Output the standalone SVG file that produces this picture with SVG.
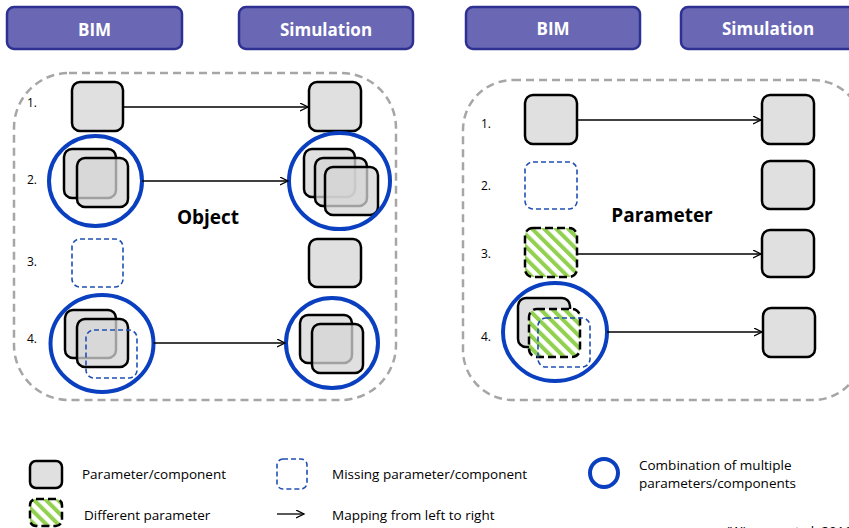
<svg xmlns="http://www.w3.org/2000/svg" width="849" height="528" viewBox="0 0 849 528">
<style>
.hdr{fill:#6a68b4;stroke:#2e3192;stroke-width:2.5}
.ht{font-family:"Open Sans","Liberation Sans",sans-serif;font-weight:bold;font-size:17px;fill:#fff;text-anchor:middle}
.cont{fill:none;stroke:#a6a6a6;stroke-width:2.5;stroke-dasharray:8 5}
.sq{fill:#e0e0e0;stroke:#000;stroke-width:2.5}
.sqt{fill:#d6d6d6;fill-opacity:0.75;stroke:#000;stroke-width:2.5}
.miss{fill:none;stroke:#1f4fb4;stroke-width:1.6;stroke-dasharray:5 3}
.hat{fill:url(#hatch);stroke:#000;stroke-width:2.5;stroke-dasharray:8 4}
.ring{fill:none;stroke:#0a3fbf;stroke-width:4}
.num{font-family:"Open Sans","Liberation Sans",sans-serif;font-size:12px;fill:#000}
.big{font-family:"Open Sans","Liberation Sans",sans-serif;font-weight:bold;font-size:19px;fill:#000;text-anchor:middle}
.lg{font-family:"Open Sans","Liberation Sans",sans-serif;font-size:13.5px;fill:#000}
.arr{stroke:#000;stroke-width:1.3;fill:none;marker-end:url(#ah)}
</style>
<defs>
<marker id="ah" markerWidth="10" markerHeight="10" refX="8" refY="4" orient="auto" markerUnits="userSpaceOnUse">
<path d="M0,0 L8,4 L0,8" fill="none" stroke="#000" stroke-width="1.3"/>
</marker>
<pattern id="hatch" patternUnits="userSpaceOnUse" width="8.5" height="8.5" patternTransform="rotate(-45)">
<rect width="8.5" height="8.5" fill="#fff"/>
<rect width="4" height="8.5" fill="#92d050"/>
</pattern>
</defs>

<g id="headers">
<g id="bim-left"><rect class="hdr" x="7" y="7" width="175" height="42" rx="7"/><text class="ht" x="94.5" y="36">BIM</text></g>
<g id="sim-left"><rect class="hdr" x="239" y="7" width="174" height="42" rx="7"/><text class="ht" x="326" y="36">Simulation</text></g>
<g id="bim-right"><rect class="hdr" x="466" y="7" width="174" height="42" rx="7"/><text class="ht" x="553" y="35">BIM</text></g>
<g id="sim-right"><rect class="hdr" x="681" y="7" width="176" height="42" rx="7"/><text class="ht" x="768" y="35">Simulation</text></g>
</g>

<g id="panel-object">
<rect class="cont" x="14" y="73" width="382" height="327" rx="55"/>
<text class="big" x="208" y="224">Object</text>
<text class="num" x="27" y="107">1.</text>
<text class="num" x="27" y="184">2.</text>
<text class="num" x="27" y="266">3.</text>
<text class="num" x="27" y="343">4.</text>
</g>

<g id="obj-r1-bim"><rect class="sq" x="72" y="82" width="51" height="49" rx="8"/></g>
<g id="obj-r1-sim"><rect class="sq" x="309" y="82" width="52" height="49" rx="8"/></g>
<g id="obj-r2-bim">
<rect class="sqt" x="64" y="149" width="52" height="49" rx="8"/>
<rect class="sqt" x="77" y="158" width="51" height="49" rx="8"/>
<ellipse class="ring" cx="95.5" cy="181" rx="46.5" ry="45"/>
</g>
<g id="obj-r2-sim">
<rect class="sqt" x="304" y="149" width="51" height="48" rx="8"/>
<rect class="sqt" x="315" y="158" width="52" height="48" rx="8"/>
<rect class="sqt" x="325" y="167" width="53" height="48" rx="8"/>
<ellipse class="ring" cx="339.5" cy="181" rx="50.5" ry="48"/>
</g>
<g id="obj-r3-bim"><rect class="miss" x="72" y="239" width="51" height="48" rx="8"/></g>
<g id="obj-r3-sim"><rect class="sq" x="309" y="239" width="52" height="48" rx="8"/></g>
<g id="obj-r4-bim">
<rect class="sqt" x="65" y="310" width="51" height="48" rx="8"/>
<rect class="sqt" x="77" y="319" width="51" height="48" rx="8"/>
<rect class="miss" x="86" y="330" width="51" height="48" rx="8"/>
<ellipse class="ring" cx="102" cy="343.5" rx="51.5" ry="48.5"/>
</g>
<g id="obj-r4-sim">
<rect class="sqt" x="300" y="315" width="52" height="48" rx="8"/>
<rect class="sqt" x="312" y="324" width="51" height="49" rx="8"/>
<ellipse class="ring" cx="332" cy="343" rx="46" ry="45"/>
</g>

<g id="panel-parameter">
<rect class="cont" x="463" y="80" width="400" height="320" rx="50"/>
<text class="big" x="662" y="222">Parameter</text>
<text class="num" x="481" y="128">1.</text>
<text class="num" x="481" y="190">2.</text>
<text class="num" x="481" y="258">3.</text>
<text class="num" x="481" y="341">4.</text>
</g>

<g id="par-r1-bim"><rect class="sq" x="525" y="95" width="52" height="49" rx="8"/></g>
<g id="par-r1-sim"><rect class="sq" x="762" y="95" width="52" height="49" rx="8"/></g>
<g id="par-r2-bim"><rect class="miss" x="525" y="162" width="52" height="47" rx="8"/></g>
<g id="par-r2-sim"><rect class="sq" x="762" y="161" width="52" height="48" rx="8"/></g>
<g id="par-r3-bim"><rect class="hat" x="525" y="228" width="52" height="49" rx="8"/></g>
<g id="par-r3-sim"><rect class="sq" x="762" y="230" width="52" height="47" rx="8"/></g>
<g id="par-r4-bim">
<rect class="sq" x="518" y="298" width="52" height="49" rx="8"/>
<rect class="hat" x="529" y="309" width="51" height="48" rx="8"/>
<rect class="miss" x="538" y="318" width="52" height="49" rx="8"/>
<ellipse class="ring" cx="555" cy="332" rx="52" ry="49"/>
</g>
<g id="par-r4-sim"><rect class="sq" x="763" y="308" width="52" height="49" rx="8"/></g>

<g id="connectors">
<line class="arr" x1="123" y1="107" x2="308" y2="107"/>
<line class="arr" x1="142" y1="181" x2="288" y2="181"/>
<line class="arr" x1="153.5" y1="343" x2="285" y2="343"/>
<line class="arr" x1="577" y1="120" x2="761" y2="120"/>
<line class="arr" x1="577" y1="254" x2="761" y2="254"/>
<line class="arr" x1="607" y1="332" x2="762" y2="332"/>
</g>

<g id="legend">
<rect class="sq" x="30" y="461" width="32" height="27" rx="6"/>
<text class="lg" x="82" y="479">Parameter/component</text>
<rect class="hat" x="30" y="499" width="32" height="27" rx="6"/>
<text class="lg" x="84" y="520">Different parameter</text>
<rect class="miss" x="277" y="459" width="30" height="30" rx="6"/>
<text class="lg" x="332" y="479">Missing parameter/component</text>
<line class="arr" x1="277" y1="514" x2="304" y2="514"/>
<text class="lg" x="332" y="520">Mapping from left to right</text>
<circle class="ring" cx="604" cy="473" r="14"/>
<text class="lg" x="639" y="470">Combination of multiple</text>
<text class="lg" x="639" y="488">parameters/components</text>
<text class="lg" x="726" y="536">(Wimmer et al. 2016)</text>
</g>
</svg>
